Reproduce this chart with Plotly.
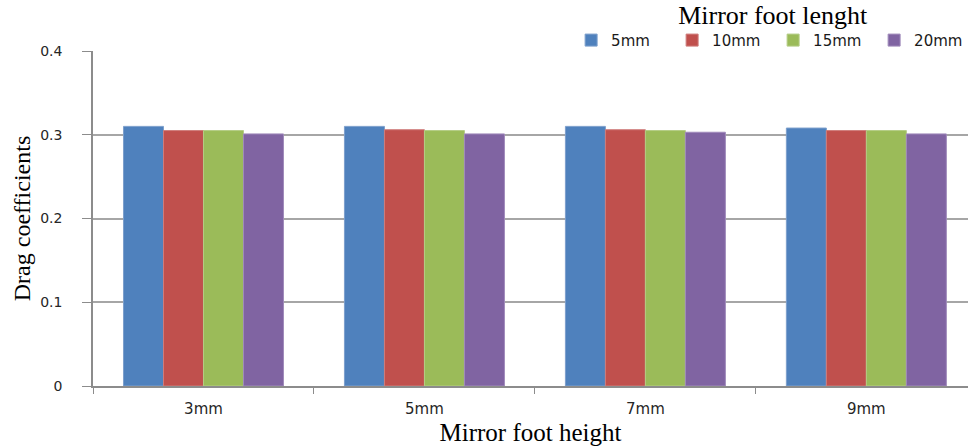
import plotly.graph_objects as go

categories = ["3mm", "5mm", "7mm", "9mm"]
series_names = ["5mm", "10mm", "15mm", "20mm"]
values_5mm = [0.310, 0.310, 0.310, 0.308]
values_10mm = [0.305, 0.306, 0.306, 0.305]
values_15mm = [0.305, 0.305, 0.305, 0.305]
values_20mm = [0.301, 0.301, 0.303, 0.301]
y_ticks = [0, 0.1, 0.2, 0.3, 0.4]
y_tick_labels = ["0", "0.1", "0.2", "0.3", "0.4"]

colors = ["#4F81BD", "#C0504D", "#9BBB59", "#8064A2"]
border = ["#7D9FCC", "#CF7D7B", "#B4CC85", "#A08BBB"]
all_values = [values_5mm, values_10mm, values_15mm, values_20mm]

fig = go.Figure()
for name, vals, c, b in zip(series_names, all_values, colors, border):
    fig.add_trace(go.Bar(
        x=categories, y=vals, name=name,
        marker=dict(color=c, line=dict(color=b, width=1)),
    ))

fig.update_layout(
    width=968, height=448,
    margin=dict(l=93, r=0, t=51, b=62, autoexpand=False),
    paper_bgcolor="white", plot_bgcolor="white",
    barmode="group", bargap=0.276, bargroupgap=0,
    font=dict(family="DejaVu Sans", color="#262626"),
    showlegend=True,
    legend=dict(
        orientation="h",
        xref="container", yref="paper",
        x=0.59, xanchor="left", y=1.182, yanchor="top",
        title=dict(text="Mirror foot lenght", side="top center",
                   font=dict(family="Liberation Serif", size=26, color="black")),
        font=dict(family="DejaVu Sans", size=15, color="#1a1a1a"),
        itemwidth=30,
        entrywidth=56,
        bgcolor="rgba(0,0,0,0)",
        tracegroupgap=0,
    ),
)

fig.update_xaxes(
    range=[-0.5, 3.46],
    automargin=True,
    showline=True, linecolor="#8C8C8C", linewidth=1.5,
    ticks="outside", tickson="boundaries", ticklen=6, tickcolor="#8C8C8C",
    tickfont=dict(family="DejaVu Sans", size=15, color="#262626"),
    ticklabelstandoff=8,
    showgrid=False,
    title=dict(text="Mirror foot height", standoff=7,
               font=dict(family="Liberation Serif", size=25, color="black")),
)
fig.update_yaxes(
    range=[0, 0.4],
    automargin=True,
    tickvals=y_ticks, ticktext=y_tick_labels,
    showline=True, linecolor="#8C8C8C", linewidth=1.5,
    ticks="outside", ticklen=9, tickcolor="#8C8C8C",
    tickfont=dict(family="DejaVu Sans", size=14, color="#262626"),
    ticklabelstandoff=17,
    showgrid=True, gridcolor="#A6A6A6", gridwidth=1.5,
    zeroline=False,
    title=dict(text="Drag coefficients", standoff=3,
               font=dict(family="Liberation Serif", size=24, color="black")),
)

fig.write_html(
    "out.html",
    config={"displayModeBar": False},
    post_script="document.body.style.margin='0';document.body.style.padding='0';",
)
